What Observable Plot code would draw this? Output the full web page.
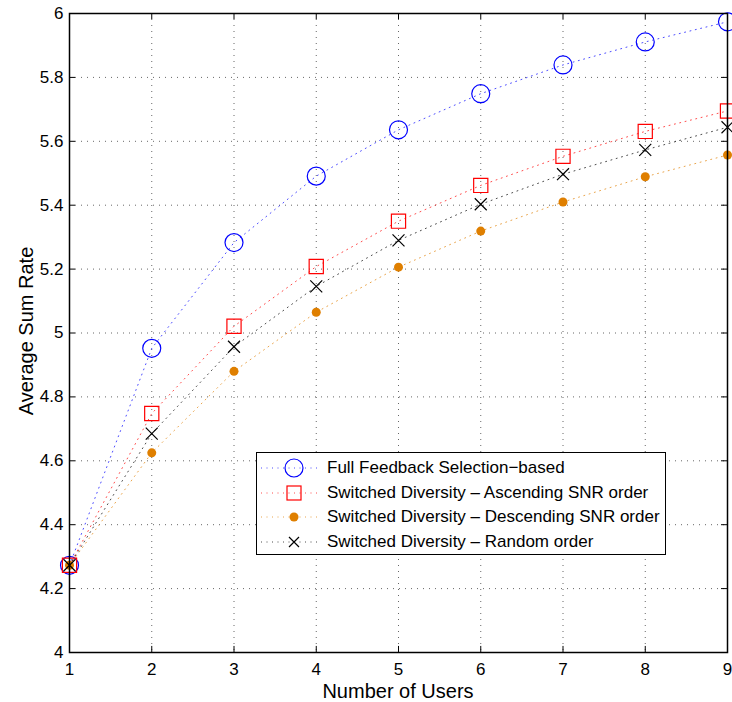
<!DOCTYPE html>
<html>
<head>
<meta charset="utf-8">
<script src="https://cdn.jsdelivr.net/npm/d3@7"></script>
<script src="https://cdn.jsdelivr.net/npm/@observablehq/plot@0.6"></script>
<style>
  html, body { margin: 0; padding: 0; background: #fff; }
  #wrap { position: relative; width: 732px; height: 702px; font-family: "Liberation Sans", Arial, sans-serif; }
  #legend { position: absolute; left: 256px; top: 452px; width: 408px; height: 101px; border: 1.5px solid #000; background: #fff; box-sizing: content-box; }
  .row { position: absolute; left: 0; height: 24px; display: flex; align-items: center; }
  .row svg { display: block; }
  .row span { font-size: 17px; color: #000; margin-left: 6px; white-space: nowrap; }
</style>
</head>
<body>
<div id="wrap"><div id="chart"></div><div id="legend"></div></div>
<script>
const users = [1, 2, 3, 4, 5, 6, 7, 8, 9];
const fullFeedback = [4.273, 4.952, 5.283, 5.491, 5.636, 5.749, 5.839, 5.911, 5.974];
const ascendingSNR = [4.273, 4.748, 5.021, 5.208, 5.350, 5.462, 5.553, 5.631, 5.695];
const descendingSNR = [4.273, 4.625, 4.880, 5.065, 5.206, 5.319, 5.410, 5.489, 5.557];
const randomOrder = [4.273, 4.685, 4.957, 5.146, 5.290, 5.403, 5.497, 5.573, 5.644];
const seriesNames = [
  "Full Feedback Selection\u2212based",
  "Switched Diversity \u2013 Ascending SNR order",
  "Switched Diversity \u2013 Descending SNR order",
  "Switched Diversity \u2013 Random order"
];
const yTicks = [4, 4.2, 4.4, 4.6, 4.8, 5, 5.2, 5.4, 5.6, 5.8, 6];
const xTicks = [1, 2, 3, 4, 5, 6, 7, 8, 9];

const series = [
  {name: seriesNames[0], values: fullFeedback, color: "#0000ff", symbol: "circle", r: 9, fill: "none", sw: 1},
  {name: seriesNames[1], values: ascendingSNR, color: "#ff0000", symbol: "square", r: 8, fill: "none", sw: 1},
  {name: seriesNames[2], values: descendingSNR, color: "#df7f00", symbol: "circle", r: 4.5, fill: "#df7f00", sw: 0},
  {name: seriesNames[3], values: randomOrder, color: "#000000", symbol: "times", r: 5.5, fill: "none", sw: 1}
];

const fmt = d => String(+d.toFixed(1));
// inward tick length in data units (about 6 px)
const tx = 0.073, ty = 0.019;
const marks = [
  Plot.gridX(xTicks, {stroke: "#000", strokeOpacity: 0.6, strokeDasharray: "1,5"}),
  Plot.gridY(yTicks, {stroke: "#000", strokeOpacity: 0.6, strokeDasharray: "1,5"}),
  Plot.axisX(xTicks, {anchor: "bottom", tickSize: 0, tickPadding: 10, tickFormat: fmt, label: null}),
  Plot.axisY(yTicks, {anchor: "left", tickSize: 0, tickPadding: 6, tickFormat: fmt, label: null}),
  Plot.ruleX(xTicks, {x: d => d, y1: 4, y2: 4 + ty, stroke: "#000"}),
  Plot.ruleX(xTicks, {x: d => d, y1: 6 - ty, y2: 6, stroke: "#000"}),
  Plot.ruleY(yTicks, {y: d => d, x1: 1, x2: 1 + tx, stroke: "#000"}),
  Plot.ruleY(yTicks, {y: d => d, x1: 9 - tx, x2: 9, stroke: "#000"})
];
for (const s of series) {
  const rows = users.map((u, i) => ({x: u, y: s.values[i]}));
  marks.push(Plot.line(rows, {x: "x", y: "y", stroke: s.color, strokeWidth: 1, strokeDasharray: "1,4.5", strokeOpacity: 0.7}));
}
for (const s of series) {
  const rows = users.map((u, i) => ({x: u, y: s.values[i]}));
  marks.push(Plot.dot(rows, {x: "x", y: "y", symbol: s.symbol, r: s.r, stroke: s.sw ? s.color : "none", fill: s.fill, strokeWidth: 1.2}));
}
marks.push(Plot.frame({stroke: "#000", strokeWidth: 1.5}));

const chart = Plot.plot({
  width: 732,
  height: 702,
  marginLeft: 69,
  marginRight: 5,
  marginTop: 13,
  marginBottom: 50,
  style: {fontFamily: "Liberation Sans, Arial, sans-serif", fontSize: "17px", color: "#000", background: "#fff"},
  x: {domain: [1, 9], label: null},
  y: {domain: [4, 6], label: null},
  marks
});
document.getElementById("chart").appendChild(chart);

const svg = d3.select(chart);
svg.selectAll("text").style("font-size", "17px");

// axis titles
svg.append("text").attr("x", 398).attr("y", 698).attr("text-anchor", "middle")
  .style("font-size", "20px").style("font-family", "Liberation Sans, Arial, sans-serif").text("Number of Users");
svg.append("text").attr("transform", "translate(33,331) rotate(-90)").attr("text-anchor", "middle")
  .style("font-size", "20px").style("font-family", "Liberation Sans, Arial, sans-serif").text("Average Sum Rate");

// legend
const legend = d3.select("#legend");
series.forEach((s, i) => {
  const row = legend.append("div").attr("class", "row").style("top", (3 + i * 24.7) + "px");
  const ic = row.append("svg").attr("width", 64).attr("height", 24);
  ic.append("line").attr("x1", 4).attr("x2", 64).attr("y1", 12).attr("y2", 12)
    .attr("stroke", s.color).attr("stroke-dasharray", "1,4.5").attr("stroke-opacity", 0.7);
  const cx = 37, cy = 12;
  if (s.symbol === "circle" && s.fill === "none") {
    ic.append("circle").attr("cx", cx).attr("cy", cy).attr("r", s.r).attr("fill", "none").attr("stroke", s.color).attr("stroke-width", 1.2);
  } else if (s.symbol === "circle") {
    ic.append("circle").attr("cx", cx).attr("cy", cy).attr("r", s.r).attr("fill", s.fill);
  } else if (s.symbol === "square") {
    ic.append("rect").attr("x", cx - 7).attr("y", cy - 7).attr("width", 14).attr("height", 14).attr("fill", "none").attr("stroke", s.color).attr("stroke-width", 1.2);
  } else {
    ic.append("path").attr("d", `M${cx-5},${cy-5}L${cx+5},${cy+5}M${cx-5},${cy+5}L${cx+5},${cy-5}`).attr("stroke", s.color).attr("stroke-width", 1.2);
  }
  row.append("span").text(s.name);
});
</script>
</body>
</html>
